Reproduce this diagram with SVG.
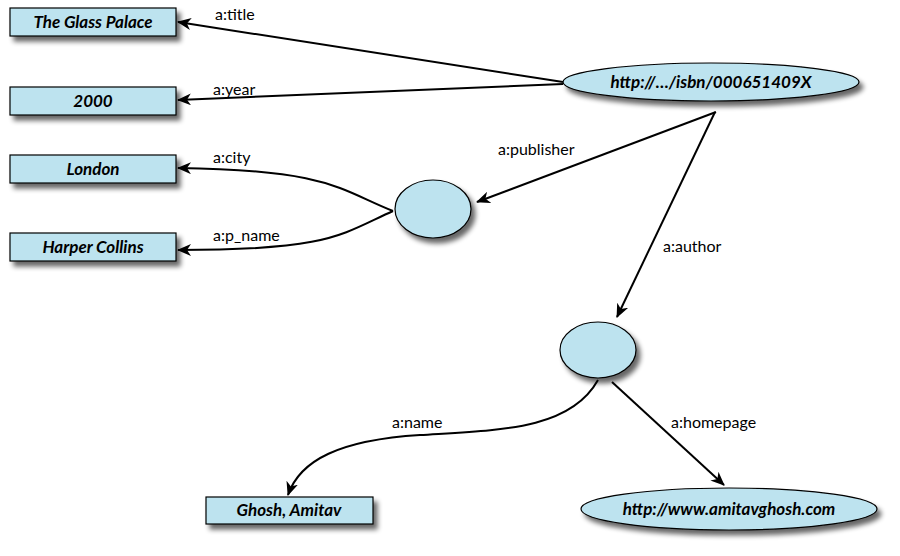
<svg xmlns="http://www.w3.org/2000/svg" width="900" height="556" viewBox="0 0 900 556">
<defs>
<filter id="sh" x="-20%" y="-30%" width="150%" height="180%"><feGaussianBlur in="SourceAlpha" stdDeviation="2.5"/><feOffset dx="4" dy="5"/><feComponentTransfer><feFuncA type="linear" slope="0.6"/></feComponentTransfer><feMerge><feMergeNode/><feMergeNode in="SourceGraphic"/></feMerge></filter>
<marker id="ar" markerWidth="14" markerHeight="12" refX="13" refY="6" orient="auto" markerUnits="userSpaceOnUse"><path d="M0,0 L14,6 L0,12 L4,6 Z" fill="#000"/></marker>
</defs>
<style>
.n{fill:#bde3ef;stroke:#000;stroke-width:1.2;filter:url(#sh)}
.t{font-family:Lato,"Open Sans",sans-serif;font-weight:bold;font-style:italic;font-size:17px;text-anchor:middle}
.e{fill:none;stroke:#000;stroke-width:2;marker-end:url(#ar)}
.l{font-family:Lato,"Open Sans",sans-serif;font-size:16px}
</style>
<rect width="900" height="556" fill="#fff"/>
<g id="connectors">
<path class="e" d="M563,82 L178,22"/>
<path class="e" d="M563,84 L178,100"/>
<path class="e" d="M716,112 L477,202"/>
<path class="e" d="M715,112 L617,317"/>
<path class="e" d="M393,211 C340,190 330,170 178,168"/>
<path class="e" d="M393,211 C340,235 330,250 178,250"/>
<path class="e" d="M598,380 C570,430 500,430 420,435 C340,440 300,460 288,495"/>
<path class="e" d="M612,382 L724,485"/>
<text class="l" x="215" y="20">a:title</text>
<text class="l" x="213" y="95">a:year</text>
<text class="l" x="498" y="155">a:publisher</text>
<text class="l" x="663" y="252">a:author</text>
<text class="l" x="213" y="163">a:city</text>
<text class="l" x="213" y="241">a:p_name</text>
<text class="l" x="392" y="428">a:name</text>
<text class="l" x="671" y="428">a:homepage</text>
</g>
<g id="title"><rect class="n" x="10" y="8" width="166" height="28"/><text class="t" x="93" y="28">The Glass Palace</text></g>
<g id="year"><rect class="n" x="10" y="87" width="166" height="28"/><text class="t" x="93" y="107">2000</text></g>
<g id="london"><rect class="n" x="10" y="155" width="166" height="28"/><text class="t" x="93" y="175">London</text></g>
<g id="harper"><rect class="n" x="10" y="233" width="166" height="28"/><text class="t" x="93" y="253">Harper Collins</text></g>
<g id="book"><ellipse class="n" cx="711" cy="82" rx="148" ry="19"/><text class="t" x="711" y="88">http://…/isbn/000651409X</text></g>
<g id="publisher"><ellipse class="n" cx="433" cy="209" rx="38" ry="29"/></g>
<g id="author"><ellipse class="n" cx="598" cy="350" rx="38" ry="28"/></g>
<g id="ghosh"><rect class="n" x="206" y="497" width="167" height="27"/><text class="t" x="289" y="516">Ghosh, Amitav</text></g>
<g id="homepage"><ellipse class="n" cx="729" cy="509" rx="148" ry="21"/><text class="t" x="729" y="515">http://www.amitavghosh.com</text></g>
</svg>
